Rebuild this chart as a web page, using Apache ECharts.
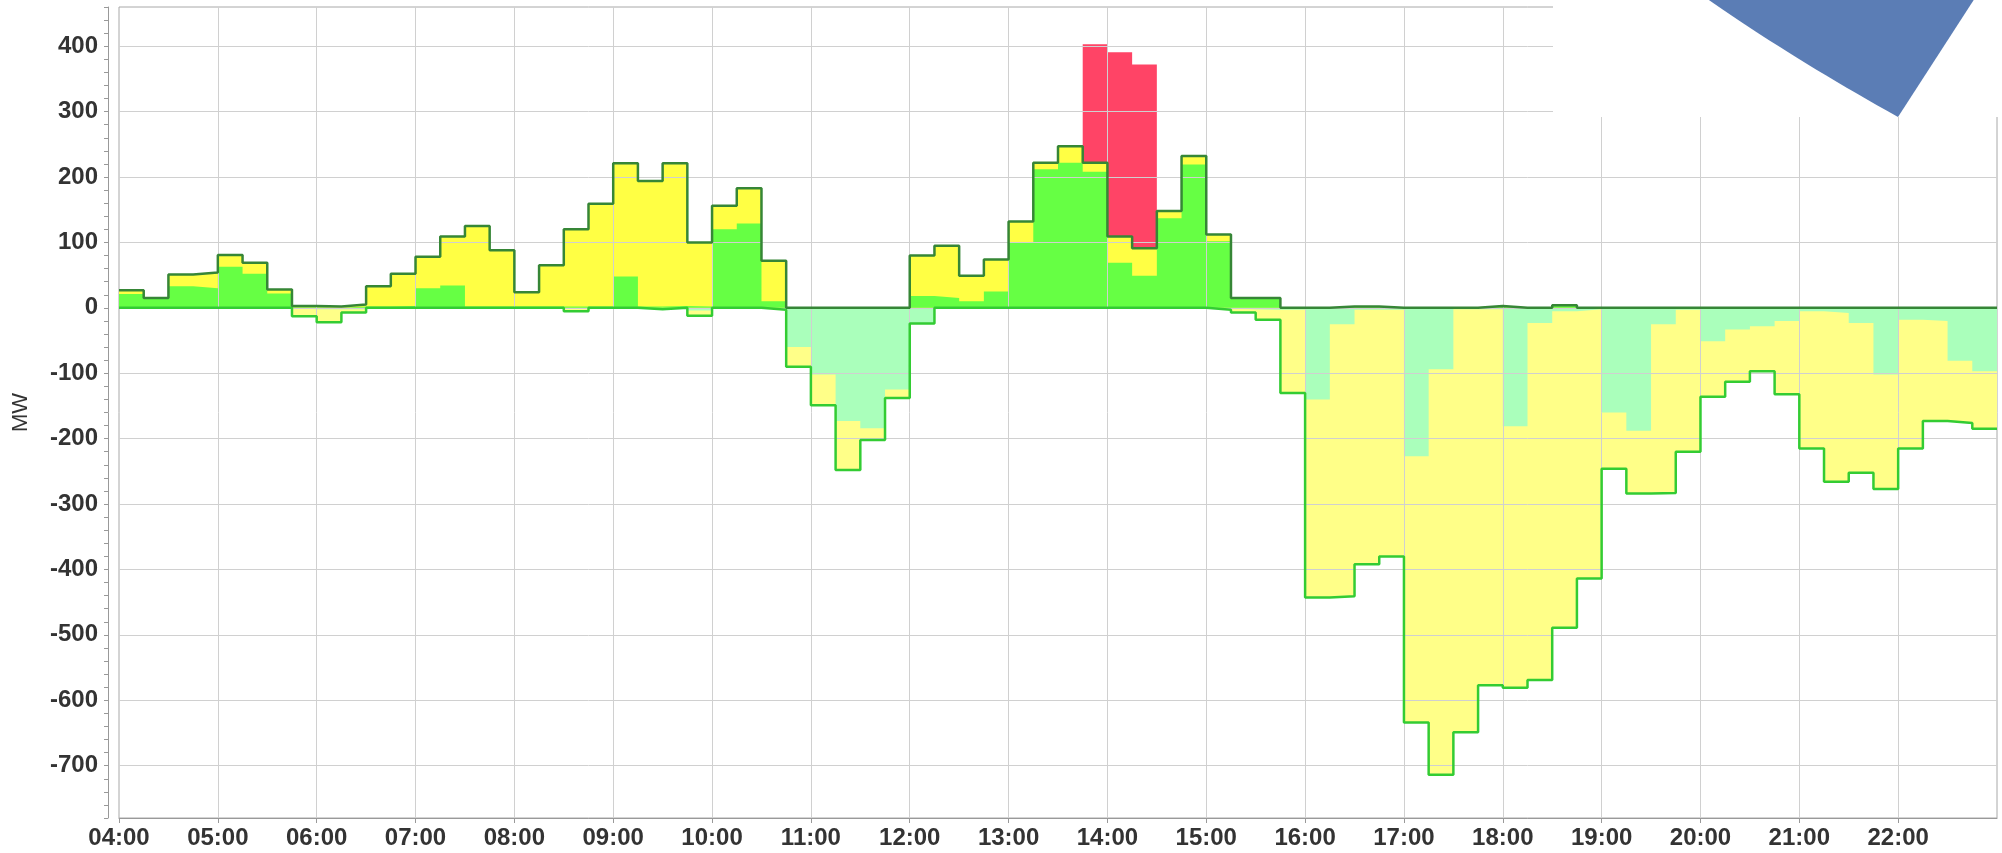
<!DOCTYPE html>
<html>
<head>
<meta charset="utf-8">
<script src="https://cdn.jsdelivr.net/npm/echarts@6/dist/echarts.min.js"></script>
<style>
html,body{margin:0;padding:0;background:#ffffff;}
#c{width:2002px;height:853px;}
</style>
</head>
<body>
<div id="c"></div>
<script>
// ---- time base (minutes since midnight) ----
const START = 240;   // 04:00
const STEP = 15;     // quarter hours
const END = 1380;    // 23:00

// ---- tick labels ----
const xTickLabels = ['04:00','05:00','06:00','07:00','08:00','09:00','10:00','11:00','12:00','13:00','14:00','15:00','16:00','17:00','18:00','19:00','20:00','21:00','22:00'];
const yTicks = [-700,-600,-500,-400,-300,-200,-100,0,100,200,300,400];

// ---- series values (MW), one per quarter hour from 04:00 to 22:45 ----
const greenPos = [21,15,33,30,63,52,22,1,0,2,2,3,30,34,2,2,2,2,2,2,48,2,3,2,120,129,10,0,0,0,0,0,18,15,10,25,100,212,222,208,69,49,137,219,102,14,14,0,0,2,2,0,0,0,0,3,0,0,4,0,0,0,0,0,0,0,0,0,0,0,0,0,0,0,0,0];
const yellowPos = [6,0,18,24,18,17,6,2,2,3,31,49,48,75,123,86,22,63,118,157,173,192,218,98,36,54,62,0,0,0,0,0,62,80,39,49,32,10,25,14,40,42,11,13,10,1,1,0,0,0,0,0,0,0,0,0,0,0,0,0,0,0,0,0,0,0,0,0,0,0,0,0,0,0,0,0];
const redPos = [0,0,0,0,0,0,0,0,0,0,0,0,0,0,0,0,0,0,0,0,0,0,0,0,0,0,0,0,0,0,0,0,0,0,0,0,0,0,0,181,282,281,0,0,0,0,0,0,0,0,0,0,0,0,0,0,0,0,0,0,0,0,0,0,0,0,0,0,0,0,0,0,0,0,0,0];
const greenNeg = [0,0,0,0,0,0,0,-2,-2,-2,0,0,0,0,0,0,0,0,-2,0,0,-1,0,-4,0,0,-1,-60,-102,-173,-184,-125,-24,0,0,0,0,0,0,0,0,0,0,0,-1,-2,-3,-3,-140,-25,-3,-3,-227,-94,-2,-2,-181,-23,-5,-2,-160,-188,-25,-3,-51,-33,-28,-20,-5,-8,-23,-102,-18,-20,-81,-97];
const yellowNeg = [0,0,0,0,0,0,0,-11,-20,-5,0,0,0,0,0,0,0,0,-3,0,0,-1,0,-8,0,0,-2,-30,-47,-75,-18,-13,0,0,0,0,0,0,0,0,0,0,0,0,-2,-5,-15,-127,-303,-416,-389,-377,-407,-620,-647,-575,-400,-546,-484,-412,-86,-96,-258,-217,-85,-80,-69,-112,-210,-258,-229,-175,-197,-153,-95,-88];

// ---- derived stacks (sums of the read values) ----
const posTotal = greenPos.map((v, i) => v + yellowPos[i]);
const redTop = posTotal.map((v, i) => v + redPos[i]);
const negTotal = greenNeg.map((v, i) => v + yellowNeg[i]);

const toSteps = arr => {
  const pts = arr.map((v, i) => [START + i * STEP, v]);
  pts.push([END, arr[arr.length - 1]]);
  return pts;
};
const hourMarks = xTickLabels.map((s, i) => START + i * 60).filter(m => m > START && m < END);

const FONT = '"Liberation Sans", Arial, Helvetica, sans-serif';

function areaSeries(name, arr, color, z, extra) {
  return Object.assign({
    name: name,
    type: 'line',
    step: 'end',
    data: toSteps(arr),
    symbol: 'none',
    showSymbol: false,
    silent: true,
    animation: false,
    z: z,
    lineStyle: { width: 0, opacity: 0, color: 'transparent' },
    areaStyle: { color: color, opacity: 1 },
    emphasis: { disabled: true }
  }, extra || {});
}
function outlineSeries(name, arr, color, z) {
  return {
    name: name,
    type: 'line',
    step: 'end',
    data: toSteps(arr),
    symbol: 'none',
    showSymbol: false,
    silent: true,
    animation: false,
    z: z,
    lineStyle: { width: 2.5, color: color },
    emphasis: { disabled: true }
  };
}

// wedge shape in the top-right corner (decoration)
const wedge = [];
(function () {
  const p0 = [1706, -2], c = [1792, 58], p2 = [1898, 117];
  for (let k = 0; k <= 20; k++) {
    const t = k / 20;
    wedge.push([
      (1 - t) * (1 - t) * p0[0] + 2 * t * (1 - t) * c[0] + t * t * p2[0],
      (1 - t) * (1 - t) * p0[1] + 2 * t * (1 - t) * c[1] + t * t * p2[1]
    ]);
  }
  wedge.push([1975, -2]);
})();

const chart = echarts.init(document.getElementById('c'), null, { renderer: 'canvas' });
chart.setOption({
  animation: false,
  backgroundColor: '#ffffff',
  grid: {
    left: 119, right: 5, top: 7, bottom: 35,
    show: true, borderColor: '#a8a8a8', borderWidth: 1,
    backgroundColor: 'transparent',
    containLabel: false,
    outerBoundsMode: 'none'
  },
  xAxis: {
    type: 'value',
    min: START, max: END, interval: 60,
    axisLine: { show: true, onZero: false, lineStyle: { color: '#999999', width: 1 } },
    axisTick: { show: true, length: 5, lineStyle: { color: '#999999' } },
    axisLabel: {
      show: true,
      showMaxLabel: false,
      margin: 8,
      color: '#333333',
      fontSize: 24,
      fontWeight: 'bold',
      fontFamily: FONT,
      formatter: v => xTickLabels[Math.round((v - START) / 60)] || ''
    },
    splitLine: { show: false }
  },
  yAxis: {
    type: 'value',
    min: -780, max: 460, interval: 20,
    offset: 11,
    name: 'MW',
    nameLocation: 'middle',
    nameRotate: 90,
    nameGap: 76,
    nameTextStyle: { color: '#333333', fontSize: 22, fontFamily: FONT },
    axisLine: { show: true, onZero: false, lineStyle: { color: '#999999', width: 1 } },
    axisTick: { show: true, length: 4, lineStyle: { color: '#999999' } },
    axisLabel: {
      margin: 10,
      color: '#333333',
      fontSize: 24,
      fontWeight: 'bold',
      fontFamily: FONT,
      formatter: v => (yTicks.indexOf(v) >= 0 ? String(v) : '')
    },
    splitLine: { show: false }
  },
  series: [
    areaSeries('red', redTop, '#ff4466', 1, {
      markLine: {
        silent: true,
        z: 5,
        symbol: ['none', 'none'],
        label: { show: false },
        emphasis: { disabled: true },
        animation: false,
        lineStyle: { color: '#d0d0d0', width: 1, type: 'solid' },
        data: yTicks.map(v => ({ yAxis: v })).concat(hourMarks.map(m => ({ xAxis: m })))
      }
    }),
    areaSeries('yellowPos', posTotal, '#ffff44', 2),
    areaSeries('greenPos', greenPos, '#66ff44', 3),
    areaSeries('yellowNeg', negTotal, '#ffff88', 1),
    areaSeries('greenNeg', greenNeg, '#aaffbb', 2),
    outlineSeries('negOutline', negTotal, '#33cc33', 8),
    outlineSeries('posOutline', posTotal, '#368636', 9)
  ],
  graphic: [
    { type: 'rect', z: 100, silent: true, shape: { x: 1553, y: 0, width: 449, height: 117 }, style: { fill: '#ffffff' } },
    { type: 'polygon', z: 101, silent: true, shape: { points: wedge }, style: { fill: '#5b7db5' } }
  ]
});
</script>
</body>
</html>
